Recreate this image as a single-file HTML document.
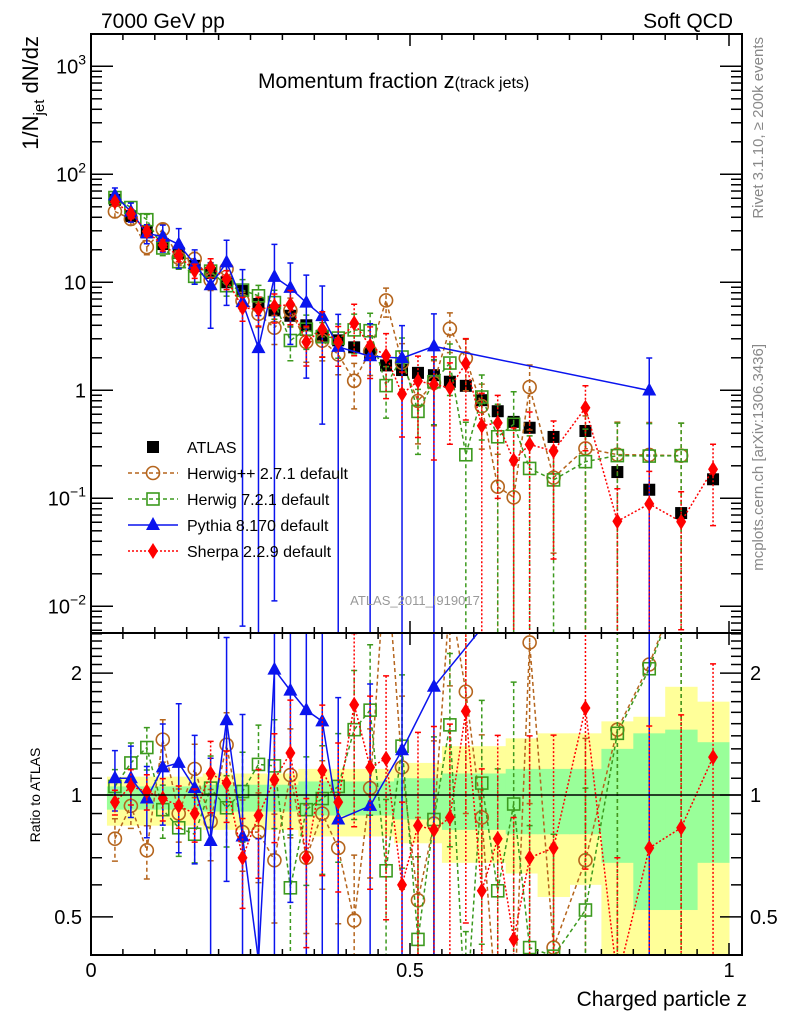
<!DOCTYPE html>
<html><head><meta charset="utf-8"><style>
html,body{margin:0;padding:0;background:#fff;width:786px;height:1024px;overflow:hidden;}
svg{display:block;font-family:"Liberation Sans",Arial,sans-serif;}
</style></head><body>
<svg id="chart" width="786" height="1024" viewBox="0 0 786 1024" xmlns="http://www.w3.org/2000/svg">
<defs>
<clipPath id="cm"><rect x="91" y="34" width="651" height="599"/></clipPath>
<clipPath id="cr"><rect x="91" y="633" width="651" height="322"/></clipPath>
</defs>
<g id="bands" clip-path="url(#cr)"></g>
<g id="grid"></g>
<g id="mainData" clip-path="url(#cm)"></g>
<g id="ratioData" clip-path="url(#cr)"></g>
<rect x="91" y="34" width="651" height="599" fill="none" stroke="#000" stroke-width="2"/>
<rect x="91" y="633" width="651" height="322" fill="none" stroke="#000" stroke-width="2"/>
<text x="101" y="28" font-size="21">7000 GeV pp</text>
<text x="733" y="28" font-size="21" text-anchor="end">Soft QCD</text>
<text x="258" y="88" font-size="21">Momentum fraction <tspan font-size="22">z</tspan><tspan font-size="16">(track jets)</tspan></text>
<text transform="translate(38,36) rotate(-90)" font-size="22" text-anchor="end">1/N<tspan font-size="15" dy="6">jet</tspan><tspan dy="-6"> dN/dz</tspan></text>
<text transform="translate(40,795) rotate(-90)" font-size="14" text-anchor="middle">Ratio to ATLAS</text>
<text transform="translate(763,37) rotate(-90)" font-size="15" fill="#888" text-anchor="end">Rivet 3.1.10, ≥ 200k events</text>
<text transform="translate(763,344) rotate(-90)" font-size="15" fill="#888" text-anchor="end">mcplots.cern.ch [arXiv:1306.3436]</text>
<text x="415" y="605" font-size="13" fill="#999" text-anchor="middle">ATLAS_2011_I919017</text>
<text x="747" y="1006" font-size="21" text-anchor="end">Charged particle z</text>
<g id="legend"></g>
</svg>
<script>
// ---- data ----
const binEdges = [0.025,0.05,0.075,0.1,0.125,0.15,0.175,0.2,0.225,0.25,0.275,0.3,0.325,0.35,0.375,0.4,0.425,0.45,0.475,0.5,0.525,0.55,0.575,0.6,0.625,0.65,0.675,0.7,0.75,0.8,0.85,0.9,0.95,1.0];
const atlas = [58,41,29,22.6,18.7,14.2,12.2,10,8.3,6.3,5.5,4.9,4.0,3.2,2.9,2.5,2.2,1.7,1.54,1.45,1.38,1.2,1.1,0.81,0.64,0.51,0.45,0.37,0.42,0.175,0.12,0.073,0.15];
const hppRatio = [0.78,0.94,0.73,1.37,0.9,1.16,0.86,1.33,0.81,0.81,0.69,1.12,0.70,0.9,0.74,0.49,1.04,4.0,1.17,0.55,0.85,3.1,1.8,0.88,0.2,0.2,2.38,0.42,0.69,1.45,2.1,3.4,null];
const hppErr = [0.12,0.12,0.15,0.12,0.15,0.15,0.2,0.2,0.2,0.25,0.3,0.3,0.35,0.35,0.35,0.45,0.4,0.3,0.5,0.6,0.6,0.4,0.5,0.6,1,1,0.6,0.8,1,1,1,1,0];
const h7Ratio = [1.05,1.2,1.31,0.92,0.83,0.8,1.04,0.93,1.02,1.19,1.18,0.59,0.92,0.98,1.05,1.45,1.62,0.65,1.32,0.44,0.87,1.49,0.23,1.07,0.58,0.95,0.42,0.4,0.52,1.42,2.05,3.4,null];
const h7Err = [0.1,0.12,0.12,0.15,0.15,0.15,0.2,0.2,0.25,0.25,0.3,0.35,0.35,0.35,0.35,0.4,0.45,0.5,0.5,0.6,0.6,0.5,1,0.6,1,1,1,1,1,1,1,1,0];
const pyRatio = [1.10,1.10,0.98,1.17,1.20,1.04,0.77,1.53,0.79,0.39,2.04,1.81,1.62,1.52,0.87,null,0.94,null,1.29,null,1.85,null,null,null,null,null,null,null,null,null,8.3,null,null];
const pyErr = [0.17,0.2,0.2,0.28,0.4,0.35,0.6,0.6,1,1,1,0.7,0.8,0.9,1,0,1,0,1,0,1,0,0,0,0,0,0,0,0,0,1,0,0];
const shRatio = [0.96,1.05,1.02,0.98,0.94,0.9,1.13,1.07,0.70,0.89,1.09,1.27,0.70,1.15,0.96,1.67,1.17,1.23,0.6,0.84,0.82,0.88,1.61,0.58,0.78,0.44,0.70,0.74,1.64,0.35,0.74,0.83,1.24];
const shErr = [0.07,0.1,0.1,0.12,0.12,0.15,0.2,0.2,0.25,0.3,0.3,0.35,0.4,0.45,0.4,0.5,0.5,0.6,0.6,0.7,0.8,0.7,0.7,1,0.8,1,1,0.9,0.6,1,1,0.9,0.7];
const bandGreenUp = [1.05,1.05,1.05,1.05,1.05,1.05,1.06,1.06,1.06,1.06,1.06,1.06,1.08,1.08,1.08,1.08,1.08,1.08,1.1,1.1,1.1,1.13,1.13,1.13,1.13,1.16,1.16,1.16,1.16,1.3,1.42,1.45,1.35];
const bandGreenDn = [0.92,0.92,0.92,0.92,0.92,0.92,0.91,0.91,0.91,0.91,0.91,0.91,0.89,0.89,0.89,0.89,0.89,0.89,0.87,0.87,0.87,0.82,0.82,0.82,0.82,0.8,0.8,0.8,0.8,0.68,0.52,0.52,0.68];
const bandYellowUp = [1.11,1.11,1.11,1.11,1.11,1.11,1.13,1.13,1.13,1.13,1.13,1.13,1.16,1.16,1.16,1.16,1.16,1.16,1.2,1.2,1.2,1.32,1.32,1.32,1.32,1.38,1.38,1.42,1.42,1.52,1.56,1.85,1.7];
const bandYellowDn = [0.84,0.84,0.84,0.84,0.84,0.84,0.82,0.82,0.82,0.82,0.82,0.82,0.79,0.79,0.79,0.79,0.79,0.79,0.76,0.76,0.76,0.68,0.68,0.68,0.68,0.64,0.64,0.56,0.6,0.3,0.3,0.3,0.3];
const mainTickExps = [-2,-1,0,1,2,3];
const mainTickLabels = ["10","10","1","10","10","10"];
const mainTickSups = ["−2","−1","","","2","3"];
const ratioTicks = [0.5,1,2];
const ratioTickLabels = ["0.5","1","2"];
const xTicks = [0,0.5,1];
const xTickLabels = ["0","0.5","1"];

// ---- scales ----
const NS = "http://www.w3.org/2000/svg";
const xs = z => 91 + 638 * z;
const ym = v => 66.3 + 108 * (3 - Math.log10(Math.max(v, 1e-4)));
const yr = r => 795 - 405 * Math.log10(Math.max(r, 1e-3));
const clampY = (y, lo, hi) => Math.min(hi, Math.max(lo, y));
function mk(parent, tag, attrs) {
  const e = document.createElementNS(NS, tag);
  for (const k in attrs) e.setAttribute(k, attrs[k]);
  parent.appendChild(e);
  return e;
}
const centers = atlas.map((_, i) => (binEdges[i] + binEdges[i + 1]) / 2);

// ---- bands ----
const bands = document.getElementById('bands');
atlas.forEach((_, i) => {
  const x0 = xs(binEdges[i]), x1 = xs(binEdges[i + 1]);
  const top = clampY(yr(bandYellowUp[i]), 633, 955), bot = clampY(yr(bandYellowDn[i]), 633, 955);
  const y1 = mk(bands, 'rect', {x: x0, y: top, width: x1 - x0 + 0.5, height: bot - top, fill: '#ffff99'});
  
  
});
atlas.forEach((_, i) => {
  const x0 = xs(binEdges[i]), x1 = xs(binEdges[i + 1]);
  const top = clampY(yr(bandGreenUp[i]), 633, 955), bot = clampY(yr(bandGreenDn[i]), 633, 955);
  const g1 = mk(bands, 'rect', {x: x0, y: top, width: x1 - x0 + 0.5, height: bot - top, fill: '#99ff99'});
  
  
});

// ---- axes ----
const grid = document.getElementById('grid');
function line(p, x1, y1, x2, y2, name) {
  const l = mk(p, 'line', {x1, y1, x2, y2, stroke: '#000', 'stroke-width': 1.5});
  
  
  return l;
}
for (let k = 0; k <= 20; k++) {
  const z = k * 0.05, x = xs(z);
  const len = (k % 10 === 0) ? 12 : 6;
  line(grid, x, 34, x, 34 + len, 'x-tick');
  line(grid, x, 633, x, 633 - len, 'x-tick');
  line(grid, x, 633, x, 633 + len, 'x-tick');
  line(grid, x, 955, x, 955 - len, 'x-tick');
}
xTicks.forEach((z, i) => {
  const t = mk(grid, 'text', {x: xs(z), y: 977, 'font-size': 20, 'text-anchor': 'middle'});
  t.textContent = xTickLabels[i];
  
  
});
for (let e = -3; e <= 3; e++) {
  for (let m = 1; m <= 9; m++) {
    const v = m * Math.pow(10, e), y = ym(v);
    if (y < 34 || y > 633) continue;
    const len = m === 1 ? 22 : 11;
    line(grid, 91, y, 91 + len, y, 'y-tick');
    line(grid, 742, y, 742 - len, y, 'y-tick');
  }
}
mainTickExps.forEach((e, i) => {
  const t = mk(grid, 'text', {x: 86, y: ym(Math.pow(10, e)) + 7, 'font-size': 20, 'text-anchor': 'end'});
  t.textContent = mainTickLabels[i];
  if (mainTickSups[i]) {
    const s = mk(t, 'tspan', {dy: -9, 'font-size': 14});
    s.textContent = mainTickSups[i];
  }
  
  
});
for (let k = 4; k <= 25; k++) {
  const r = k / 10, y = yr(r);
  if (y < 633 || y > 955) continue;
  const major = (k === 5 || k === 10 || k === 20);
  const len = major ? 22 : 11;
  line(grid, 91, y, 91 + len, y, 'ratio-y-tick');
  line(grid, 742, y, 742 - len, y, 'ratio-y-tick');
}
ratioTicks.forEach((r, i) => {
  const t = mk(grid, 'text', {x: 82, y: yr(r) + 7, 'font-size': 20, 'text-anchor': 'end'});
  t.textContent = ratioTickLabels[i];
  
  
  const t2 = mk(grid, 'text', {x: 750, y: yr(r) + 7, 'font-size': 20});
  t2.textContent = ratioTickLabels[i];
  
  
});

// ---- series ----
const mainG = document.getElementById('mainData');
const ratioG = document.getElementById('ratioData');
function marker(p, type, x, y, color, name) {
  let e;
  if (type === 'square') e = mk(p, 'rect', {x: x - 6, y: y - 6, width: 12, height: 12, fill: color});
  if (type === 'osquare') e = mk(p, 'rect', {x: x - 6, y: y - 6, width: 12, height: 12, fill: 'none', stroke: color, 'stroke-width': 1.6});
  if (type === 'ocircle') e = mk(p, 'circle', {cx: x, cy: y, r: 6.5, fill: 'none', stroke: color, 'stroke-width': 1.6});
  if (type === 'tri') e = mk(p, 'path', {d: `M${x},${y - 8}L${x + 7},${y + 5}L${x - 7},${y + 5}Z`, fill: color});
  if (type === 'diamond') e = mk(p, 'path', {d: `M${x},${y - 8}L${x + 5},${y}L${x},${y + 8}L${x - 5},${y}Z`, fill: color});
  
  
}
function drawSeries(ratio, err, color, dash, type, name) {
  [[mainG, (i) => ratio[i] * atlas[i], ym, 34, 633], [ratioG, (i) => ratio[i], yr, 633, 955]].forEach(([g, val, ys, lo, hi], pi) => {
    const pts = [];
    ratio.forEach((r, i) => {
      if (r === null) return;
      const v = val(i), x = xs(centers[i]);
      pts.push(x + ',' + clampY(ys(v), 10, 1020));
      if (err[i] > 0) {
        const up = v * (1 + err[i]), dn = err[i] >= 1 ? v * 0.001 : v * (1 - err[i]);
        const yu = ys(up), yd = ys(dn);
        if (yd < lo || yu > hi) return;
        const cu = clampY(yu, lo - 2, hi + 2), cd = clampY(yd, lo - 2, hi + 2);
        const eb = mk(g, 'line', {x1: x, y1: cu, x2: x, y2: cd, stroke: color, 'stroke-width': 1.5, 'stroke-dasharray': dash});
        
        
        const cap = mk(g, 'path', {d: `M${x - 3},${cu}H${x + 3}M${x - 3},${cd}H${x + 3}`, stroke: color, 'stroke-width': 1.5});
        
        
      }
    });
    const pl = mk(g, 'polyline', {points: pts.join(' '), fill: 'none', stroke: color, 'stroke-width': 1.5, 'stroke-dasharray': dash});
    
    
    ratio.forEach((r, i) => {
      if (r === null) return;
      const y = ys(val(i));
      if (y < lo - 10 || y > hi + 10) return;
      marker(g, type, xs(centers[i]), y, color, name + '-point');
    });
  });
}
atlas.forEach((v, i) => {
  const x = xs(centers[i]);
  marker(mainG, 'square', x, ym(v), '#000', 'atlas-point');
});
drawSeries(hppRatio, hppErr, '#b5651d', '4,3', 'ocircle', 'herwigpp');
drawSeries(h7Ratio, h7Err, '#3c9a1e', '4,3', 'osquare', 'herwig7');
drawSeries(pyRatio, pyErr, '#0a14ee', 'none', 'tri', 'pythia8');
drawSeries(shRatio, shErr, '#ff0000', '2,2', 'diamond', 'sherpa');
line(ratioG, 91, yr(1), 742, yr(1), 'ratio-unity-line');

// ---- legend ----
const leg = document.getElementById('legend');
const legNames = ["ATLAS","Herwig++ 2.7.1 default","Herwig 7.2.1 default","Pythia 8.170 default","Sherpa 2.2.9 default"];
const legColors = ['#000','#b5651d','#3c9a1e','#0a14ee','#ff0000'];
const legDash = [null,'4,3','4,3','none','2,2'];
const legType = ['square','ocircle','osquare','tri','diamond'];
legNames.forEach((n, i) => {
  const y = 447 + i * 26;
  if (legDash[i]) {
    const l = mk(leg, 'line', {x1: 128, y1: y, x2: 178, y2: y, stroke: legColors[i], 'stroke-width': 1.5, 'stroke-dasharray': legDash[i]});
    
    
  }
  marker(leg, legType[i], 153, y, legColors[i], 'legend-marker');
  const t = mk(leg, 'text', {x: 187, y: y + 6, 'font-size': 16});
  t.textContent = n;
  
  
});
</script>
</body></html>
